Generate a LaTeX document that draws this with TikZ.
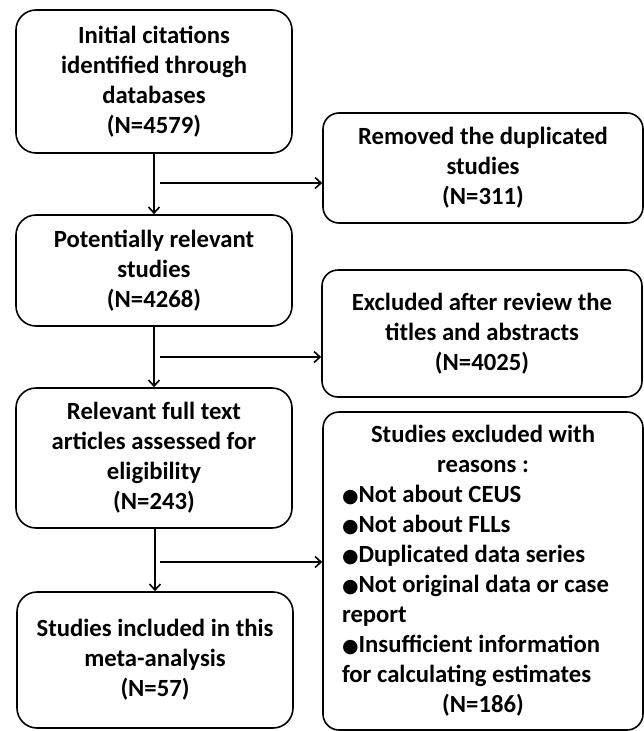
\documentclass[tikz,border=0pt]{standalone}
\usepackage{fontspec}
\setmainfont{Carlito}
\newfontfamily\dejavu{DejaVu Sans}
\usetikzlibrary{arrows.meta,calc}
\newcommand{\bul}{{\dejavu\fontsize{19}{30}\selectfont ●}}
\begin{document}
\begin{tikzpicture}[x=1pt,y=-1pt,
  lbox/.style={draw,line width=1.6pt,rounded corners=20pt,minimum width=276pt,align=center,inner sep=0pt},
  rbox/.style={draw,line width=1.6pt,rounded corners=16pt,minimum width=320pt,align=center,inner sep=0pt},
  txt/.style={font=\bfseries\fontsize{24.7}{30}\selectfont},
  arr/.style={line width=1.6pt,-{Straight Barb[length=6pt,width=11pt,line width=1.6pt]}}]
\useasboundingbox (0,0) rectangle (644,731);
\node[lbox,minimum height=143pt,txt] (b1) at (154,81.5) {Initial citations\\identified through\\databases\\(N=4579)};
\node[lbox,minimum height=111pt,txt] (b2) at (154,270.5) {Potentially relevant\\studies\\(N=4268)};
\node[lbox,minimum height=140pt,txt] (b3) at (154,458) {Relevant full text\\articles assessed for\\eligibility\\(N=243)};
\node[lbox,minimum height=136pt,txt] (b4) at (155,660) {Studies included in this\\meta-analysis\\(N=57)};
\node[rbox,minimum height=110pt,txt] (r1) at (483,168) {Removed the duplicated\\studies\\(N=311)};
\node[rbox,minimum height=127pt,txt] (r2) at (482,333.5) {Excluded after review the\\titles and abstracts\\(N=4025)};
\node[rbox,minimum height=318pt,txt] (r3) at (483,571) {Studies excluded with\\reasons :\\
\makebox[282pt][l]{\bul Not about CEUS}\\
\makebox[282pt][l]{\bul Not about FLLs}\\
\makebox[282pt][l]{\bul Duplicated data series}\\
\makebox[282pt][l]{\bul Not original data or case}\\
\makebox[282pt][l]{report}\\
\makebox[282pt][l]{\bul Insufficient information}\\
\makebox[282pt][l]{for calculating estimates}\\
(N=186)};
\coordinate (h1) at (160,183);
\coordinate (h2) at (160,357);
\coordinate (h3) at (160,562);
\draw[arr] (b1.south) -- (b2.north);
\draw[arr] (b2.south) -- (b3.north);
\draw[arr] (b3.south -| b4.north) -- (b4.north);
\draw[arr] (h1) -- (h1 -| r1.west);
\draw[arr] (h2) -- (h2 -| r2.west);
\draw[arr] (h3) -- (h3 -| r3.west);
\end{tikzpicture}
\end{document}
